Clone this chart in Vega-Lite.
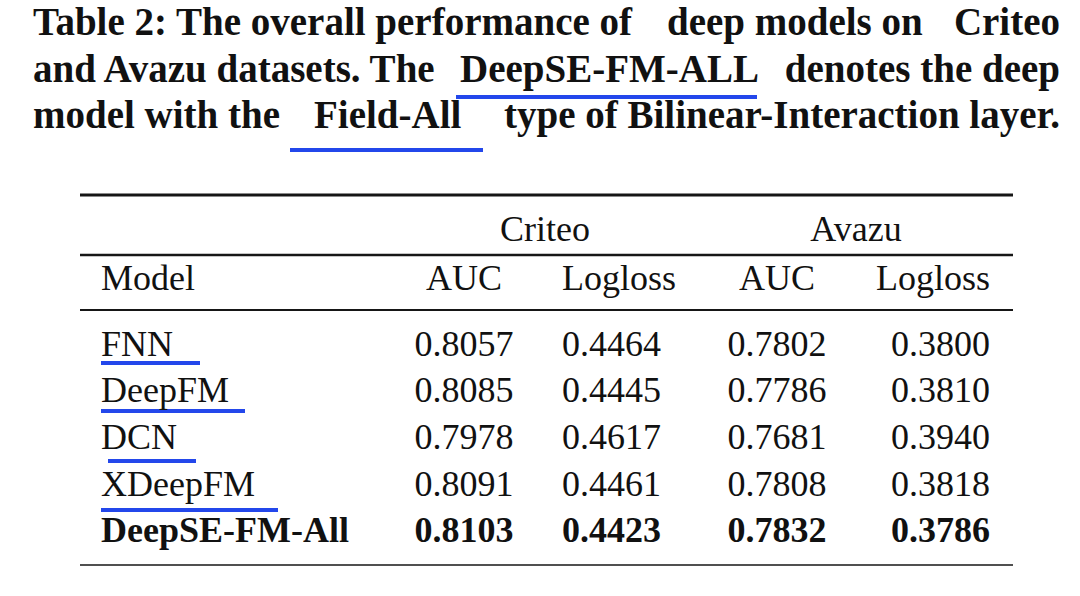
{
  "$schema": "https://vega.github.io/schema/vega-lite/v6.json",
  "width": 1080,
  "height": 596,
  "padding": 0,
  "autosize": {"type": "none"},
  "background": "white",
  "config": {
    "view": {"stroke": null},
    "text": {"font": "Liberation Serif", "color": "#111111", "baseline": "alphabetic"}
  },
  "datasets": {
    "title": [
      {"row": 0, "col": 0, "text": "Table 2: The overall performance of"},
      {"row": 0, "col": 16, "text": "deep models on"},
      {"row": 0, "col": 22, "text": "Criteo"},
      {"row": 1, "col": 0, "text": "and Avazu datasets. The"},
      {"row": 1, "col": 11, "text": "DeepSE-FM-ALL"},
      {"row": 1, "col": 22, "text": "denotes the deep"},
      {"row": 3, "col": 0, "text": "model with the"},
      {"row": 3, "col": 9, "text": "Field-All"},
      {"row": 3, "col": 22, "text": "type of Bilinear-Interaction layer."}
    ],
    "cells": [
      {"row": 6, "col": 14, "text": "Criteo"},
      {"row": 6, "col": 19, "text": "Avazu"},
      {"row": 8, "col": 2, "text": "Model"},
      {"row": 8, "col": 12, "text": "AUC"},
      {"row": 8, "col": 15, "text": "Logloss"},
      {"row": 8, "col": 18, "text": "AUC"},
      {"row": 8, "col": 20, "text": "Logloss"},
      {"row": 10, "col": 2, "text": "FNN"},
      {"row": 10, "col": 12, "text": "0.8057"},
      {"row": 10, "col": 15, "text": "0.4464"},
      {"row": 10, "col": 18, "text": "0.7802"},
      {"row": 10, "col": 20, "text": "0.3800"},
      {"row": 12, "col": 2, "text": "DeepFM"},
      {"row": 12, "col": 12, "text": "0.8085"},
      {"row": 12, "col": 15, "text": "0.4445"},
      {"row": 12, "col": 18, "text": "0.7786"},
      {"row": 12, "col": 20, "text": "0.3810"},
      {"row": 14, "col": 2, "text": "DCN"},
      {"row": 14, "col": 12, "text": "0.7978"},
      {"row": 14, "col": 15, "text": "0.4617"},
      {"row": 14, "col": 18, "text": "0.7681"},
      {"row": 14, "col": 20, "text": "0.3940"},
      {"row": 16, "col": 2, "text": "XDeepFM"},
      {"row": 16, "col": 12, "text": "0.8091"},
      {"row": 16, "col": 15, "text": "0.4461"},
      {"row": 16, "col": 18, "text": "0.7808"},
      {"row": 16, "col": 20, "text": "0.3818"},
      {"row": 18, "col": 2, "text": "DeepSE-FM-All"},
      {"row": 18, "col": 12, "text": "0.8103"},
      {"row": 18, "col": 15, "text": "0.4423"},
      {"row": 18, "col": 18, "text": "0.7832"},
      {"row": 18, "col": 20, "text": "0.3786"}
    ],
    "rules": [
      {"row": 5, "col": 1, "col2": 21, "kind": "top"},
      {"row": 7, "col": 1, "col2": 21, "kind": "mid"},
      {"row": 9, "col": 1, "col2": 21, "kind": "head"},
      {"row": 19, "col": 1, "col2": 21, "kind": "bottom"}
    ],
    "underlines": [
      {"row": 2, "col": 10, "col2": 17, "target": "DeepSE-FM-ALL"},
      {"row": 4, "col": 8, "col2": 13, "target": "Field-All"},
      {"row": 11, "col": 2, "col2": 5, "target": "FNN"},
      {"row": 13, "col": 2, "col2": 6, "target": "DeepFM"},
      {"row": 15, "col": 3, "col2": 4, "target": "DCN"},
      {"row": 17, "col": 2, "col2": 7, "target": "XDeepFM"}
    ]
  },
  "encoding": {
    "x": {
      "field": "col",
      "type": "quantitative",
      "axis": null,
      "scale": {
        "domain": [0, 1, 2, 3, 4, 5, 6, 7, 8, 9, 10, 11, 12, 13, 14, 15, 16, 17, 18, 19, 20, 21, 22],
        "range": [33, 80, 101, 108, 196, 200, 245, 278, 290, 314, 456, 460, 464, 483, 545, 562, 667, 757, 777, 856, 990, 1013, 1060],
        "nice": false,
        "zero": false
      }
    },
    "y": {
      "field": "row",
      "type": "quantitative",
      "axis": null,
      "scale": {
        "domain": [0, 1, 2, 3, 4, 5, 6, 7, 8, 9, 10, 11, 12, 13, 14, 15, 16, 17, 18, 19],
        "range": [35, 82, 97, 128, 150, 195, 241, 255, 290, 310, 356, 363, 402, 411, 449, 461, 496, 510, 542, 565],
        "nice": false,
        "zero": false
      }
    }
  },
  "layer": [
    {
      "data": {"name": "rules"},
      "mark": {"type": "rule", "color": "#161616"},
      "encoding": {
        "x2": {"field": "col2"},
        "strokeWidth": {
          "field": "kind",
          "type": "nominal",
          "legend": null,
          "scale": {"domain": ["top", "mid", "head", "bottom"], "range": [3, 1.5, 2.5, 3]}
        }
      }
    },
    {
      "data": {"name": "underlines"},
      "mark": {"type": "rule", "color": "#2347eb", "strokeWidth": 4},
      "encoding": {"x2": {"field": "col2"}}
    },
    {
      "data": {"name": "title"},
      "transform": [{"filter": "datum.col != 22"}],
      "mark": {"type": "text", "align": "left", "fontWeight": "bold", "fontSize": 39},
      "encoding": {"text": {"field": "text"}}
    },
    {
      "data": {"name": "title"},
      "transform": [{"filter": "datum.col == 22"}],
      "mark": {"type": "text", "align": "right", "fontWeight": "bold", "fontSize": 39},
      "encoding": {"text": {"field": "text"}}
    },
    {
      "data": {"name": "cells"},
      "transform": [{"filter": "(datum.col == 2 || datum.col == 15) && datum.row != 18"}],
      "mark": {"type": "text", "align": "left", "fontSize": 36},
      "encoding": {"text": {"field": "text"}}
    },
    {
      "data": {"name": "cells"},
      "transform": [{"filter": "(datum.col == 2 || datum.col == 15) && datum.row == 18"}],
      "mark": {"type": "text", "align": "left", "fontSize": 36, "fontWeight": "bold"},
      "encoding": {"text": {"field": "text"}}
    },
    {
      "data": {"name": "cells"},
      "transform": [{"filter": "(datum.col == 12 || datum.col == 14 || datum.col == 18 || datum.col == 19) && datum.row != 18"}],
      "mark": {"type": "text", "align": "center", "fontSize": 36},
      "encoding": {"text": {"field": "text"}}
    },
    {
      "data": {"name": "cells"},
      "transform": [{"filter": "(datum.col == 12 || datum.col == 18) && datum.row == 18"}],
      "mark": {"type": "text", "align": "center", "fontSize": 36, "fontWeight": "bold"},
      "encoding": {"text": {"field": "text"}}
    },
    {
      "data": {"name": "cells"},
      "transform": [{"filter": "datum.col == 20 && datum.row != 18"}],
      "mark": {"type": "text", "align": "right", "fontSize": 36},
      "encoding": {"text": {"field": "text"}}
    },
    {
      "data": {"name": "cells"},
      "transform": [{"filter": "datum.col == 20 && datum.row == 18"}],
      "mark": {"type": "text", "align": "right", "fontSize": 36, "fontWeight": "bold"},
      "encoding": {"text": {"field": "text"}}
    }
  ]
}
